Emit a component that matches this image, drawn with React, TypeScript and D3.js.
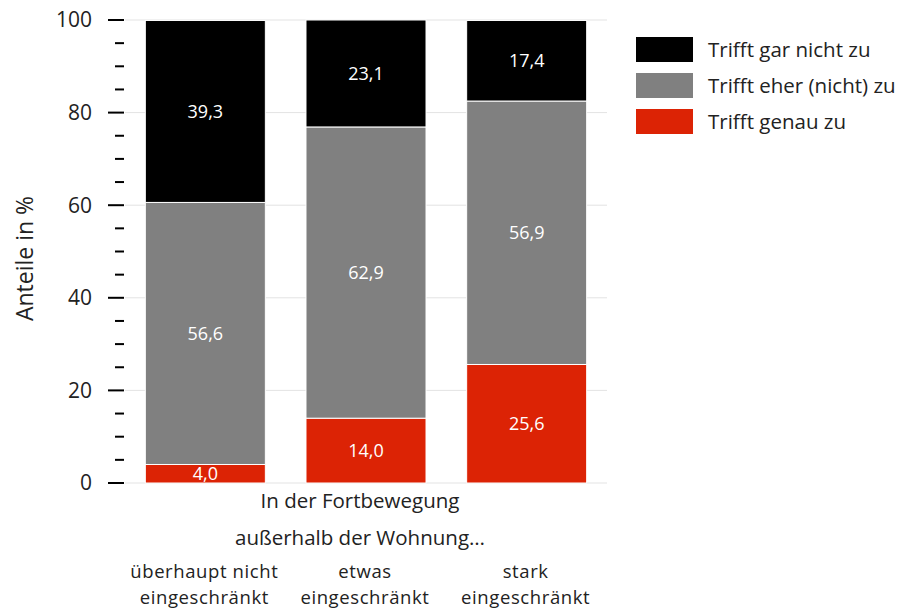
import React from "react";
import * as d3 from "d3";

const categories = ["überhaupt nicht\neingeschränkt", "etwas\neingeschränkt", "stark\neingeschränkt"];
const seriesNames = ["Trifft genau zu", "Trifft eher (nicht) zu", "Trifft gar nicht zu"];
const genau = [4.0, 14.0, 25.6];
const eher = [56.6, 62.9, 56.9];
const garNicht = [39.3, 23.1, 17.4];
const majorTicks = [0, 20, 40, 60, 80, 100];
const minorTicks = d3.range(0, 101, 5);
const colors = ["#dc2305", "#808080", "#000000"];
const legendOrder = [2, 1, 0];

const W = 901, H = 610;
const FONT = "'Open Sans', sans-serif";

export default function App() {
  const x = d3.scaleBand<number>().domain([0, 1, 2]).range([125, 607]).paddingInner(0.253).paddingOuter(0.1265);
  const y = d3.scaleLinear().domain([0, 100]).range([483, 20]);
  const series = [genau, eher, garNicht];
  const fmt = (v: number) => v.toFixed(1).replace(".", ",");

  const bars: React.ReactNode[] = [];
  categories.forEach((_, i) => {
    let cum = 0;
    series.forEach((s, j) => {
      const v = s[i];
      const y0 = y(cum), y1 = y(cum + v);
      cum += v;
      bars.push(
        <rect key={`r${i}-${j}`} x={x(i)} y={y1} width={x.bandwidth()} height={y0 - y1}
          fill={colors[j]} stroke="#fff" strokeWidth={1} />
      );
      bars.push(
        <text key={`t${i}-${j}`} x={(x(i) as number) + x.bandwidth() / 2} y={(y0 + y1) / 2}
          dy="0.35em" textAnchor="middle" fill="#fff" fontSize={18}>{fmt(v)}</text>
      );
    });
  });

  return (
    <svg width={W} height={H} style={{ position: "absolute", left: 0, top: 0 }} fontFamily={FONT}>
      <rect width={W} height={H} fill="#fff" />
      {majorTicks.map((t) => (
        <line key={`g${t}`} x1={125} x2={607} y1={y(t)} y2={y(t)} stroke="#e3e3e3" strokeWidth={1} />
      ))}
      {minorTicks.map((t) => (
        <line key={`m${t}`} x1={t % 20 === 0 ? 108 : 115} x2={124} y1={y(t)} y2={y(t)} stroke="#000" strokeWidth={2} />
      ))}
      {majorTicks.map((t) => (
        <text key={`l${t}`} x={92} y={y(t)} dy="0.35em" textAnchor="end" fontSize={21} fill="#222">{t}</text>
      ))}
      <text transform={`translate(33,${y(50) + 7}) rotate(-90)`} textAnchor="middle" fontSize={23} fill="#222">Anteile in %</text>
      {bars}
      <text x={360} y={508} textAnchor="middle" fontSize={20.5} fill="#222">In der Fortbewegung</text>
      <text x={360} y={545} textAnchor="middle" fontSize={20.5} fill="#222">außerhalb der Wohnung…</text>
      {categories.map((c, i) => (
        <text key={`c${i}`} x={(x(i) as number) + x.bandwidth() / 2} textAnchor="middle" fontSize={18.5} letterSpacing={0.6} fill="#222">
          {c.split("\n").map((line, k) => (
            <tspan key={k} x={(x(i) as number) + x.bandwidth() / 2 - 1} y={578 + k * 26}>{line}</tspan>
          ))}
        </text>
      ))}
      {legendOrder.map((j, k) => (
        <g key={`lg${j}`} transform={`translate(636,${37 + k * 36})`}>
          <rect width={57} height={25} fill={colors[j]} />
          <text x={72} y={12.5} dy="0.35em" fontSize={20.5} fill="#222">{seriesNames[j]}</text>
        </g>
      ))}
    </svg>
  );
}
